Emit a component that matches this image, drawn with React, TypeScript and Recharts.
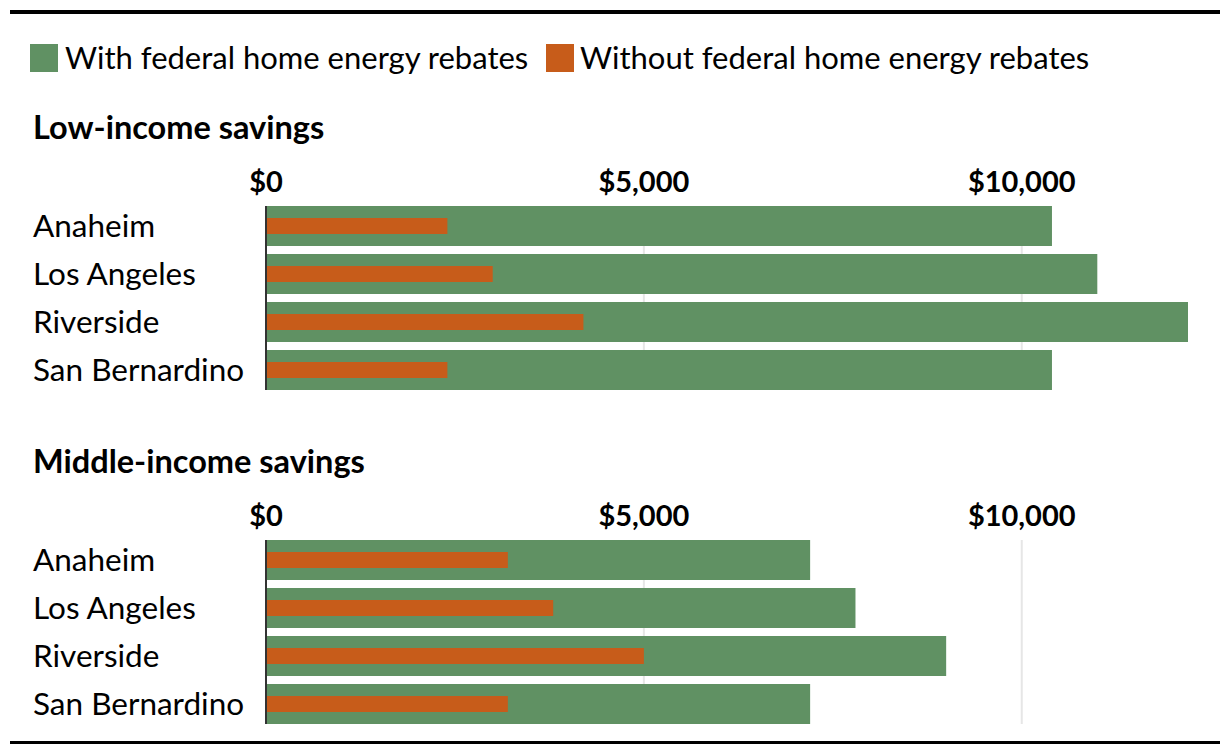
import React from "react";
import { BarChart, Bar, XAxis, YAxis, CartesianGrid } from "recharts";

const cities = ["Anaheim", "Los Angeles", "Riverside", "San Bernardino"];
const lowWith = [10400, 11000, 12200, 10400];
const lowWithout = [2400, 3000, 4200, 2400];
const midWith = [7200, 7800, 9000, 7200];
const midWithout = [3200, 3800, 5000, 3200];
const xTicks = [0, 5000, 10000];
const gridTicks = [5000, 10000];

const GREEN = "#609163";
const ORANGE = "#c75c1a";
const FONT = "Lato, 'Noto Sans', sans-serif";

const fmt = (v: number) => "$" + v.toLocaleString("en-US");

function XTick(props: any) {
  const { x, payload } = props;
  return (
    <text x={x} y={30} textAnchor="middle" dominantBaseline="central" fontFamily={FONT} fontWeight={700} fontSize={29} fill="#000">
      {fmt(payload.value)}
    </text>
  );
}

function YTick(props: any) {
  const { y, payload } = props;
  return (
    <text x={33} y={y - 1} textAnchor="start" dominantBaseline="central" fontFamily={FONT} fontSize={31.5} fill="#000">
      {payload.value}
    </text>
  );
}

function Panel({ withVals, withoutVals }: { withVals: number[]; withoutVals: number[] }) {
  const data = cities.map((city, i) => ({ city, with: withVals[i], without: withoutVals[i] }));
  return (
    <BarChart
      width={1220}
      height={260}
      layout="vertical"
      data={data}
      margin={{ top: 55, right: 32, bottom: 20, left: 0 }}
    >
      <CartesianGrid horizontal={false} verticalValues={gridTicks} stroke="#e6e6e6" strokeWidth={2} yAxisId="a" />
      <XAxis
        type="number"
        domain={[0, 12200]}
        ticks={xTicks}
        orientation="top"
        height={1}
        axisLine={false}
        tickLine={false}
        tick={<XTick />}
        interval={0}
        allowDataOverflow
      />
      <YAxis
        yAxisId="a"
        type="category"
        dataKey="city"
        width={266}
        axisLine={{ stroke: "#333", strokeWidth: 2 }}
        tickLine={false}
        tick={<YTick />}
        padding={{ top: -4, bottom: -4 }}
      />
      <YAxis yAxisId="b" type="category" dataKey="city" hide padding={{ top: -4, bottom: -4 }} />
      <Bar dataKey="with" yAxisId="a" fill={GREEN} barSize={40} isAnimationActive={false} />
      <Bar dataKey="without" yAxisId="b" fill={ORANGE} barSize={16} isAnimationActive={false} />
    </BarChart>
  );
}

const titleStyle: React.CSSProperties = {
  position: "absolute",
  left: 33,
  fontFamily: FONT,
  fontWeight: 700,
  fontSize: 32.5,
  lineHeight: "36px",
  color: "#000",
  whiteSpace: "nowrap",
};

const legendText: React.CSSProperties = {
  position: "absolute",
  top: 39,
  fontFamily: FONT,
  fontSize: 31,
  lineHeight: "36px",
  color: "#000",
  whiteSpace: "nowrap",
};

export default function App() {
  return (
    <div style={{ position: "absolute", left: 0, top: 0, width: 1220, height: 754, background: "#fff", overflow: "hidden" }}>
      <div style={{ position: "absolute", left: 10, top: 10, width: 1210, height: 4, background: "#000" }} />
      <div style={{ position: "absolute", left: 30, top: 44, width: 28, height: 28, background: GREEN }} />
      <div style={{ ...legendText, left: 65 }}>With federal home energy rebates</div>
      <div style={{ position: "absolute", left: 546, top: 44, width: 28, height: 28, background: ORANGE }} />
      <div style={{ ...legendText, left: 580 }}>Without federal home energy rebates</div>

      <div style={{ ...titleStyle, top: 109 }}>Low-income savings</div>
      <div style={{ position: "absolute", left: 0, top: 150 }}>
        <Panel withVals={lowWith} withoutVals={lowWithout} />
      </div>

      <div style={{ ...titleStyle, top: 443 }}>Middle-income savings</div>
      <div style={{ position: "absolute", left: 0, top: 484 }}>
        <Panel withVals={midWith} withoutVals={midWithout} />
      </div>

      <div style={{ position: "absolute", left: 10, top: 741, width: 1210, height: 3, background: "#000" }} />
    </div>
  );
}
